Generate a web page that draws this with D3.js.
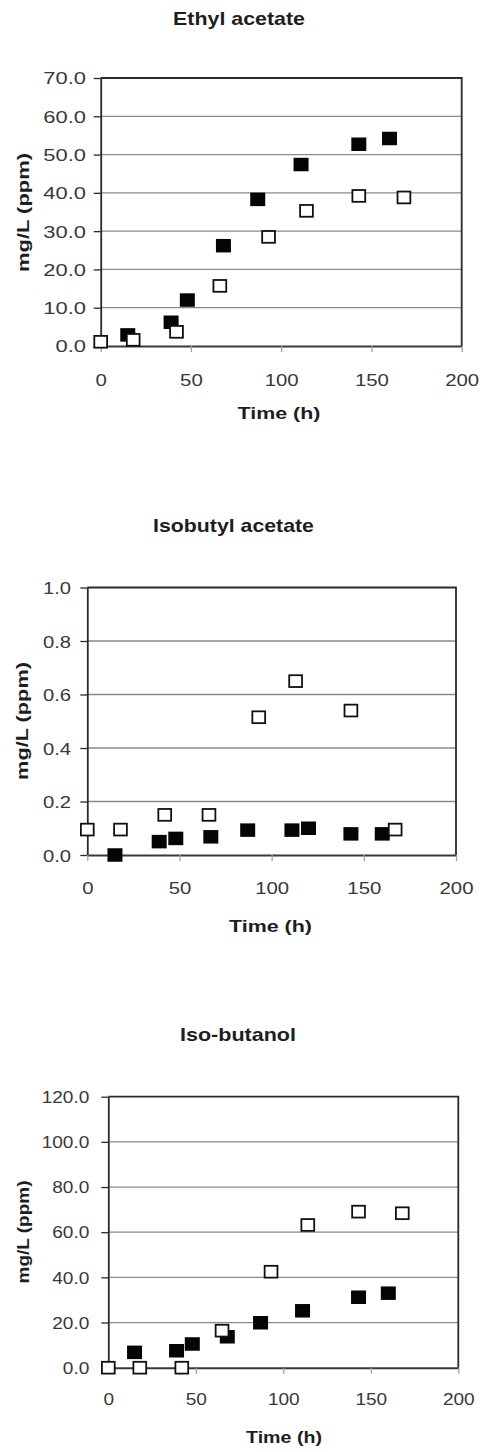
<!DOCTYPE html>
<html>
<head>
<meta charset="utf-8">
<script src="https://cdn.jsdelivr.net/npm/d3@7"></script>
<style>
  html, body { margin: 0; padding: 0; background: #fff; }
  svg { display: block; }
</style>
</head>
<body>
<svg id="chart" width="484" height="1452"></svg>
<script>
// Shared time axis
const timeTicks = [0, 50, 100, 150, 200];

// Ethyl acetate (mg/L)
const ethylTicks = [0, 10, 20, 30, 40, 50, 60, 70];
const ethylFilledTime = [15, 39, 48, 68, 87, 111, 143, 160];
const ethylFilledValue = [2.9, 6.2, 12.0, 26.2, 38.3, 47.4, 52.7, 54.2];
const ethylOpenTime = [0, 18, 42, 66, 93, 114, 143, 168];
const ethylOpenValue = [1.1, 1.6, 3.7, 15.7, 28.5, 35.3, 39.2, 38.8];

// Isobutyl acetate (mg/L)
const isobutylTicks = [0, 0.2, 0.4, 0.6, 0.8, 1.0];
const isobutylFilledTime = [15, 39, 48, 67, 87, 111, 120, 143, 160];
const isobutylFilledValue = [0.0, 0.05, 0.062, 0.068, 0.093, 0.093, 0.1, 0.079, 0.079];
const isobutylOpenTime = [0, 18, 42, 66, 93, 113, 143, 167];
const isobutylOpenValue = [0.095, 0.095, 0.15, 0.15, 0.515, 0.65, 0.54, 0.095];

// Iso-butanol (mg/L)
const isobutanolTicks = [0, 20, 40, 60, 80, 100, 120];
const isobutanolFilledTime = [15, 39, 48, 68, 87, 111, 143, 160];
const isobutanolFilledValue = [6.8, 7.5, 10.5, 13.7, 19.9, 25.2, 31.2, 33.0];
const isobutanolOpenTime = [0, 18, 42, 65, 93, 114, 143, 168];
const isobutanolOpenValue = [0.0, 0.0, 0.0, 16.4, 42.5, 63.2, 69.1, 68.4];

const FONT = '"Liberation Sans", Arial, Helvetica, sans-serif';

const panels = [
  {
    title: "Ethyl acetate", yTicks: ethylTicks, yMax: 70,
    filled: { t: ethylFilledTime, v: ethylFilledValue },
    open: { t: ethylOpenTime, v: ethylOpenValue },
    box: { left: 100.7, right: 461.7, top: 78, bottom: 346 },
    title_: { x: 239, y: 24.5, w: 132 },
    yLab: { size: 16.5, stretch: 1.33, gap: 14.7 },
    xLab: { size: 17, stretch: 1.2, offset: 34 },
    xTitle: { x: 279, y: 419, w: 83 },
    yTitle: { x: 23, y: 212.5, w: 119 }
  },
  {
    title: "Isobutyl acetate", yTicks: isobutylTicks, yMax: 1,
    filled: { t: isobutylFilledTime, v: isobutylFilledValue },
    open: { t: isobutylOpenTime, v: isobutylOpenValue },
    box: { left: 87.3, right: 456, top: 587.5, bottom: 855 },
    title_: { x: 233.5, y: 531.5, w: 161 },
    yLab: { size: 17, stretch: 1.19, gap: 16.3 },
    xLab: { size: 17, stretch: 1.2, offset: 33 },
    xTitle: { x: 270.5, y: 932, w: 83 },
    yTitle: { x: 22.5, y: 721, w: 118 }
  },
  {
    title: "Iso-butanol", yTicks: isobutanolTicks, yMax: 120,
    filled: { t: isobutanolFilledTime, v: isobutanolFilledValue },
    open: { t: isobutanolOpenTime, v: isobutanolOpenValue },
    box: { left: 108.3, right: 458.3, top: 1096.7, bottom: 1367.7 },
    title_: { x: 238, y: 1041, w: 116 },
    yLab: { size: 16, stretch: 1.19, gap: 19 },
    xLab: { size: 16, stretch: 1.19, offset: 31.3 },
    xTitle: { x: 284, y: 1443, w: 76 },
    yTitle: { x: 23, y: 1232, w: 103 }
  }
];

const svg = d3.select("#chart");

// Places a bold label and widens it horizontally to the given width.
function boldLabel(g, text, x, y, width, size, rotate) {
  const t = g.append("text")
    .attr("font-family", FONT)
    .attr("font-weight", "bold")
    .attr("font-size", size)
    .attr("fill", "#1e1e1e")
    .attr("text-anchor", "middle")
    .attr("dy", rotate ? "0.35em" : null)
    .text(text);
  const natural = t.node().getComputedTextLength();
  const s = width / natural;
  t.attr("transform", `translate(${x},${y})${rotate ? " rotate(-90)" : ""} scale(${s},1)`);
  return t;
}

panels.forEach(p => {
  const g = svg.append("g");
  const { left, right, top, bottom } = p.box;

  const x = d3.scaleLinear().domain([0, 200]).range([left, right]);
  const y = d3.scaleLinear().domain([0, p.yMax]).range([bottom, top]);

  // Horizontal gridlines
  g.append("g").selectAll("line")
    .data(p.yTicks.filter(d => d > 0 && d < p.yMax))
    .join("line")
    .attr("x1", left).attr("x2", right)
    .attr("y1", d => y(d)).attr("y2", d => y(d))
    .attr("stroke", "#8a8a8a").attr("stroke-width", 1.3);

  // Plot frame (top and right edges)
  g.append("path")
    .attr("d", `M${left},${top}H${right}V${bottom}`)
    .attr("fill", "none").attr("stroke", "#2a2a2a").attr("stroke-width", 1.8);

  // Y axis
  const yAxis = g.append("g")
    .attr("transform", `translate(${left},0)`)
    .call(d3.axisLeft(y).tickValues(p.yTicks).tickFormat(d3.format(".1f")).tickSize(7).tickSizeOuter(0));
  yAxis.select(".domain").attr("stroke", "#2a2a2a").attr("stroke-width", 1.8);
  yAxis.selectAll(".tick line").attr("stroke", "#2a2a2a").attr("stroke-width", 1.3);
  yAxis.selectAll(".tick text")
    .attr("x", 0).attr("dy", null)
    .attr("font-family", FONT).attr("font-size", p.yLab.size).attr("fill", "#383838")
    .attr("transform", `translate(${-p.yLab.gap},${0.36 * p.yLab.size}) scale(${p.yLab.stretch},1)`);

  // X axis
  const xAxis = g.append("g")
    .attr("transform", `translate(0,${bottom})`)
    .call(d3.axisBottom(x).tickValues(timeTicks).tickFormat(d3.format("d")).tickSize(6).tickSizeOuter(0));
  xAxis.select(".domain").attr("stroke", "#3a3a3a").attr("stroke-width", 1.9);
  xAxis.selectAll(".tick line").attr("stroke", "#a0a0a0").attr("stroke-width", 1.3);
  xAxis.selectAll(".tick text")
    .attr("y", 0).attr("dy", null)
    .attr("font-family", FONT).attr("font-size", p.xLab.size).attr("fill", "#383838")
    .attr("transform", `translate(0,${p.xLab.offset + 0.36 * p.xLab.size}) scale(${p.xLab.stretch},1)`);

  // Filled squares
  const fw = 15, fh = 13.5;
  g.append("g").selectAll("rect")
    .data(p.filled.t.map((t, i) => ({ t, v: p.filled.v[i] })))
    .join("rect")
    .attr("x", d => x(d.t) - fw / 2).attr("y", d => y(d.v) - fh / 2)
    .attr("width", fw).attr("height", fh)
    .attr("fill", "#050505");

  // Open squares
  const ow = 12.8, oh = 11.8;
  g.append("g").selectAll("rect")
    .data(p.open.t.map((t, i) => ({ t, v: p.open.v[i] })))
    .join("rect")
    .attr("x", d => x(d.t) - ow / 2).attr("y", d => y(d.v) - oh / 2)
    .attr("width", ow).attr("height", oh)
    .attr("fill", "#fff").attr("stroke", "#111").attr("stroke-width", 1.8);

  // Titles
  boldLabel(g, p.title, p.title_.x, p.title_.y, p.title_.w, 18, false);
  boldLabel(g, "Time (h)", p.xTitle.x, p.xTitle.y, p.xTitle.w, 17, false);
  boldLabel(g, "mg/L (ppm)", p.yTitle.x, p.yTitle.y, p.yTitle.w, 17, true);
});
</script>
</body>
</html>
